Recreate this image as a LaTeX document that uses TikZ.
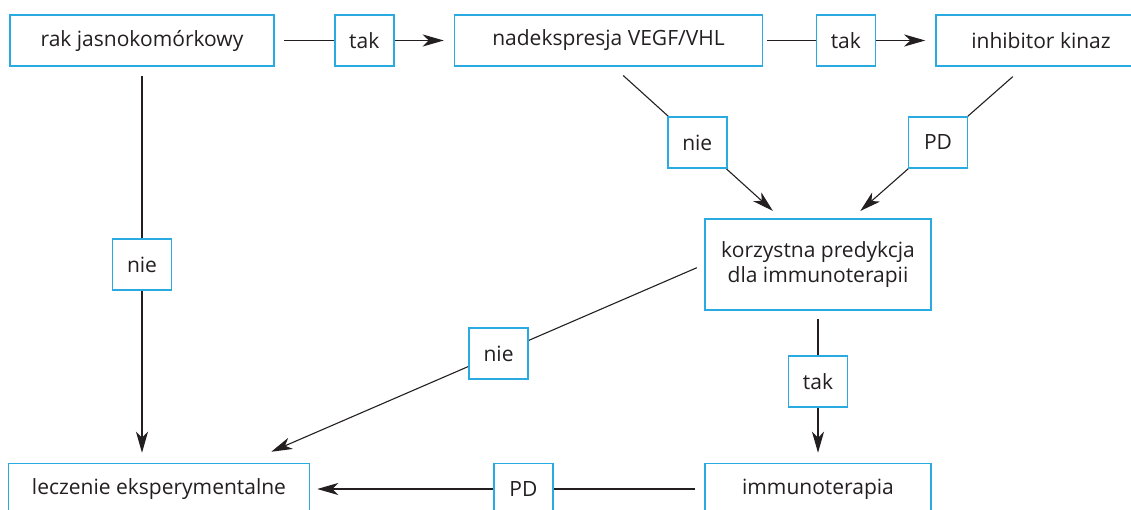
\documentclass[tikz,border=0pt]{standalone}
\usepackage{fontspec}
\setmainfont{Open Sans}
\usetikzlibrary{
  arrows.meta,
  positioning,  % Function "of" (e.g. [right=of x])
}
\definecolor{boxblue}{RGB}{41,171,226}
\definecolor{ink}{RGB}{35,31,32}
\def\myboxh{51pt}
\def\mylblw{59pt}
\tikzset{
  x=1pt,y=1pt,
  font=\fontsize{21}{25}\selectfont,
  text=ink,
  >={Stealth[length=21pt,width=12pt,inset=6pt]},
  my box/.style={
    draw=boxblue,
    line width=1.5pt,
    minimum height=\myboxh,
    inner sep=0pt,
    align=center,
    rectangle
  },
  my label/.style={
    my box,
    fill=white,
    minimum width=\mylblw
  },
  conn/.style={
    draw=ink,
    line width=1.1pt,
    shorten <=9pt,
    shorten >=10pt
  }
}
\begin{document}
\begin{tikzpicture}
\useasboundingbox (0,0) rectangle (1131,509);
\node[my box,minimum width=264pt]               (rak)  at (142,468.5)      {rak jasnokomórkowy};
\node[my box,minimum width=308pt,right=179pt of rak] (ndk)   {nadekspresja VEGF/VHL};
\node[my box,minimum width=210pt,right=172pt of ndk] (inh)   {inhibitor kinaz};
\node[my box,minimum width=226pt,minimum height=91pt] (kor) at (818,244.5)
  {korzystna predykcja\\dla immunoterapii};
\node[my box,minimum width=226pt,below=152pt of kor] (imm)   {immunoterapia};
\node[my box,minimum width=301pt,left=394pt of imm]  (lecz)  {leczenie eksperymentalne};
% points where the slanted connectors leave and enter
\coordinate (ndk-out) at ([xshift=5pt]ndk.south);
\coordinate (inh-out) at ([xshift=-17pt]inh.south);
\coordinate (kor-inl) at ([xshift=-37pt]kor.north);
\coordinate (kor-inr) at ([xshift=34pt]kor.north);
\coordinate (lecz-in) at ([shift={(-39pt,11pt)}]lecz.north east);
\path[conn,->]  (rak) -- node[my label]{tak} (ndk);
\path[conn,->,shorten <=4pt] (ndk) -- node[my label,pos=0.48]{tak} (inh);
\path[conn,->,shorten <=13pt,shorten >=11pt] (ndk-out) -- node[my label]{nie} (kor-inl);
\path[conn,->,shorten <=15pt,shorten >=11pt] (inh-out) -- node[my label]{PD} (kor-inr);
\path[conn,->]  (rak.south) -- node[my label]{nie} (rak.south |- lecz.north);
\path[conn,->,shorten <=8pt,shorten >=0pt] (kor.west) -- node[my label,pos=0.475]{nie} (lecz-in);
\path[conn,->,shorten <=8pt] (kor) -- node[my label,pos=0.464]{tak} (imm);
\path[conn,->,shorten >=7pt] (imm) -- node[my label,pos=0.459]{PD} (lecz);
\end{tikzpicture}
\end{document}
